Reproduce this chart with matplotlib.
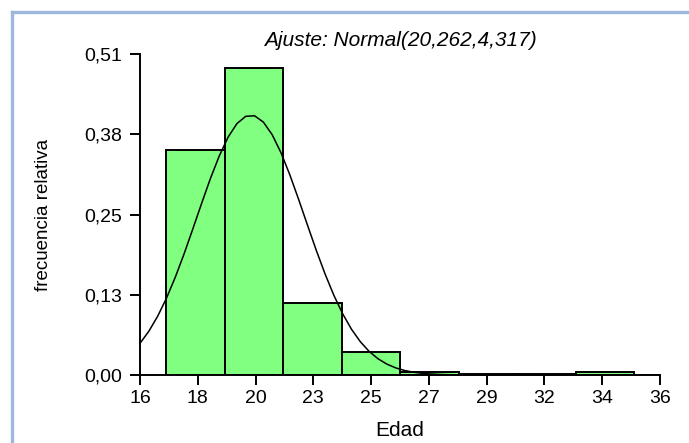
import numpy as np
import matplotlib
matplotlib.use('Agg')
import matplotlib.pyplot as plt
from matplotlib.lines import Line2D

plt.rcParams['font.family'] = ['Liberation Sans', 'DejaVu Sans']

# histograma de edades (frecuencia relativa por clase)
bin_edges = [17.0, 19.25, 21.5, 23.75, 26.0, 28.25, 30.5, 32.75, 35.0]
rel_freq = [0.357, 0.488, 0.115, 0.037, 0.005, 0.001, 0.001, 0.005]

# ajuste normal: media y varianza
media = 20.262
varianza = 4.317
escala = 2.15

xticks = np.linspace(16, 36, 10)
xtick_labels = ['16', '18', '20', '23', '25', '27', '29', '32', '34', '36']
yticks = np.linspace(0, 0.51, 5)
ytick_labels = ['0,00', '0,13', '0,25', '0,38', '0,51']

fig = plt.figure(figsize=(6.89, 4.43), dpi=100)

# marco azul de la ventana
fig.add_artist(Line2D([11.5 / 689, 1.0], [1 - 12 / 443, 1 - 12 / 443],
                      transform=fig.transFigure, color='#9db8dc', lw=2.4))
fig.add_artist(Line2D([11.5 / 689, 11.5 / 689], [0.0, 1 - 12 / 443],
                      transform=fig.transFigure, color='#9db8dc', lw=2.4))

ax = fig.add_axes([140 / 689, 68 / 443, 520 / 689, 321 / 443])

widths = np.diff(bin_edges)
ax.bar(bin_edges[:-1], rel_freq, width=widths, align='edge',
       color='#80ff80', edgecolor='black', linewidth=1.4, zorder=2)

x = np.linspace(16, 36, 60)
sd = np.sqrt(varianza)
y = escala * np.exp(-(x - media) ** 2 / (2 * varianza)) / (sd * np.sqrt(2 * np.pi))
ax.plot(x, y, color='black', lw=1.1, zorder=3)

ax.set_xlim(16, 36)
ax.set_ylim(0, 0.51)
ax.set_xticks(xticks)
ax.set_xticklabels(xtick_labels)
ax.set_yticks(yticks)
ax.set_yticklabels(ytick_labels)

for side in ['top', 'right']:
    ax.spines[side].set_visible(False)
for side in ['left', 'bottom']:
    ax.spines[side].set_linewidth(1.4)
ax.tick_params(direction='out', length=7, width=1.4, labelsize=14)
ax.tick_params(axis='x', pad=4)
ax.tick_params(axis='y', pad=6)

ax.set_xlabel('Edad', fontsize=15, labelpad=10)
ax.set_ylabel('frecuencia relativa', fontsize=13.5, labelpad=23)
ax.set_title('Ajuste: Normal(20,262,4,317)', fontsize=15, style='italic', pad=6)

fig.savefig('out.png', dpi=100)
